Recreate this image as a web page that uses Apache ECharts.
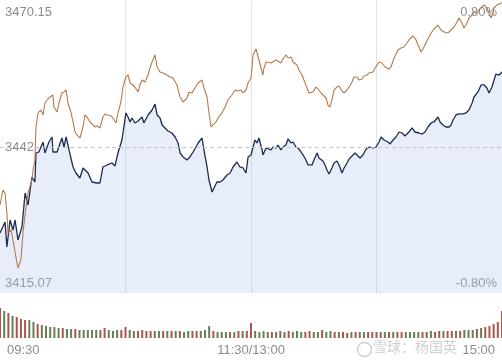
<!DOCTYPE html>
<html><head><meta charset="utf-8">
<script src="https://cdn.jsdelivr.net/npm/echarts@6/dist/echarts.min.js"></script>
<style>html,body{margin:0;padding:0;background:#fff}#c{width:502px;height:362px}</style>
</head><body><div id="c"></div>
<script>
// ---- data ----
const timeTicks = [0, 120, 240];                 // minutes since 09:30 (trading minutes)
const timeLabels = ['09:30', '11:30/13:00', '15:00'];
const priceMin = 3415.07, priceMax = 3470.15, prevClose = 3442.61;
const leftTickValues = [3415.07, 3442.61, 3470.15];
const leftTickLabels = ['3415.07', '3442', '3470.15'];
const rightTickValues = [3415.07, 3470.15];
const rightTickLabels = ['-0.80%', '0.80%'];

// [trading minute, price]
const indexLine = [[0,3426.39],[2.4,3428.46],[3.3,3423.75],[4.8,3428.84],[6.2,3426.95],[7.2,3428.84],[8.6,3425.07],[10.5,3427.52],[12.0,3433.93],[13.4,3431.67],[15.3,3436.95],[16.7,3436.01],[17.2,3441.48],[18.6,3441.67],[20.6,3443.55],[21.5,3441.48],[23.4,3443.55],[24.9,3444.50],[25.3,3441.67],[27.3,3441.67],[28.2,3441.48],[29.6,3444.31],[30.6,3442.61],[31.6,3444.50],[33.0,3442.05],[34.9,3438.84],[36.3,3437.71],[38.2,3436.76],[39.7,3438.65],[42.1,3437.71],[44.0,3436.01],[46.4,3435.82],[47.8,3435.82],[49.2,3438.84],[51.2,3439.22],[53.5,3439.59],[55.0,3439.03],[56.4,3441.48],[58.3,3443.93],[60.2,3449.03],[61.2,3448.27],[62.2,3447.33],[63.1,3448.08],[64.5,3447.14],[66.0,3447.52],[67.9,3448.27],[68.8,3447.14],[70.8,3448.65],[72.7,3449.59],[74.1,3450.72],[75.1,3448.65],[76.5,3448.08],[77.5,3446.76],[78.9,3446.20],[80.3,3445.63],[82.2,3445.25],[83.7,3444.50],[85.1,3443.37],[86.1,3441.48],[87.5,3440.73],[89.4,3440.16],[90.8,3440.73],[92.3,3441.67],[93.7,3442.61],[94.7,3443.37],[96.6,3444.31],[97.5,3442.05],[99.0,3438.84],[99.9,3436.39],[101.4,3434.12],[102.3,3434.12],[103.7,3436.01],[105.2,3436.01],[106.6,3436.39],[108.5,3437.33],[110.0,3437.71],[111.4,3438.84],[113.3,3439.78],[114.7,3438.84],[116.2,3438.65],[117.6,3437.71],[118.6,3440.73],[120.0,3441.10],[121.0,3442.61],[121.9,3443.93],[122.9,3443.37],[123.8,3444.31],[125.3,3442.05],[125.7,3441.10],[127.2,3442.42],[128.1,3442.61],[129.6,3442.05],[130.5,3442.61],[132.0,3442.42],[132.9,3442.99],[134.3,3442.05],[135.3,3442.61],[136.7,3442.99],[137.7,3444.12],[139.1,3443.37],[140.1,3443.55],[141.5,3442.61],[142.5,3442.42],[143.9,3441.67],[144.9,3441.10],[146.3,3440.16],[147.3,3439.22],[149.2,3439.22],[150.1,3440.16],[151.6,3441.48],[152.5,3440.54],[154.4,3439.97],[155.4,3439.22],[156.3,3438.27],[157.3,3437.52],[158.7,3438.65],[159.7,3439.59],[161.1,3439.97],[162.1,3439.22],[163.5,3437.71],[164.5,3438.65],[165.9,3439.59],[166.9,3440.35],[168.3,3440.91],[169.7,3441.48],[170.7,3441.10],[172.1,3440.54],[173.5,3441.10],[174.5,3441.86],[175.5,3442.42],[176.9,3442.61],[178.3,3442.42],[179.8,3442.61],[181.2,3443.55],[182.2,3444.50],[183.6,3443.93],[185.5,3443.55],[186.5,3443.18],[187.9,3443.93],[189.3,3444.50],[190.8,3445.44],[192.2,3445.25],[193.6,3444.69],[195.5,3445.44],[197.0,3446.20],[198.4,3445.44],[200.3,3445.25],[201.8,3445.06],[203.2,3445.44],[204.6,3446.38],[206.1,3447.14],[207.5,3447.33],[209.4,3448.27],[210.4,3447.33],[211.8,3446.76],[213.2,3446.38],[214.7,3446.38],[215.6,3446.76],[216.6,3447.70],[218.0,3448.65],[219.4,3448.84],[221.4,3448.84],[222.8,3449.03],[224.2,3449.59],[225.7,3450.91],[226.6,3452.04],[228.5,3452.99],[230.0,3454.31],[231.4,3454.31],[232.8,3453.74],[233.8,3452.80],[235.2,3453.93],[236.2,3455.25],[237.1,3456.38],[238.6,3456.19],[240,3456.76]];

const avgLine = [[0,3431.67],[1.4,3434.50],[2.4,3433.93],[3.3,3430.16],[3.8,3426.39],[5.3,3426.95],[6.2,3425.07],[7.6,3421.86],[8.6,3419.79],[10.0,3421.30],[11.0,3426.39],[12.4,3431.29],[13.4,3433.93],[15.3,3436.39],[15.8,3438.27],[16.7,3440.16],[17.2,3446.38],[18.2,3449.03],[19.6,3449.59],[20.6,3448.65],[21.5,3450.91],[22.5,3451.48],[23.9,3452.04],[25.3,3452.42],[25.8,3450.16],[27.3,3449.21],[28.2,3450.91],[29.6,3452.80],[30.6,3452.99],[31.6,3453.36],[32.5,3450.91],[33.9,3449.21],[34.9,3447.33],[35.9,3445.44],[36.8,3444.88],[38.2,3444.31],[39.7,3446.38],[40.6,3448.65],[41.6,3448.27],[43.0,3447.33],[44.5,3446.76],[45.4,3446.38],[46.4,3446.57],[47.8,3446.20],[49.2,3448.27],[50.2,3448.84],[51.2,3448.65],[53.1,3448.46],[54.0,3448.08],[55.5,3447.14],[56.4,3449.03],[57.8,3451.10],[58.8,3453.93],[60.2,3455.82],[61.2,3456.19],[62.2,3454.68],[63.1,3454.87],[64.5,3453.93],[66.0,3452.99],[66.9,3454.31],[67.9,3455.25],[69.3,3454.87],[70.8,3456.19],[71.7,3457.51],[72.7,3458.65],[74.1,3459.97],[75.1,3457.70],[76.5,3456.76],[77.9,3456.57],[79.8,3456.19],[81.3,3455.82],[82.7,3455.63],[84.6,3454.31],[86.1,3452.04],[87.5,3451.10],[89.4,3451.85],[90.4,3452.99],[91.8,3452.80],[93.2,3453.74],[94.7,3454.68],[96.6,3455.25],[97.5,3453.74],[99.0,3452.04],[99.9,3449.03],[100.9,3446.38],[101.8,3446.20],[103.3,3447.33],[104.2,3448.08],[106.1,3449.03],[107.6,3450.16],[109.0,3451.48],[110.9,3452.42],[112.4,3453.36],[113.8,3453.18],[115.2,3453.36],[116.2,3452.80],[117.6,3453.36],[118.6,3454.68],[120.0,3455.63],[120.5,3457.70],[121.0,3459.97],[122.4,3461.10],[122.9,3460.34],[123.8,3459.97],[125.3,3456.76],[125.7,3456.19],[126.2,3457.51],[127.2,3458.65],[128.1,3459.02],[129.6,3458.46],[130.5,3458.83],[132.0,3459.02],[132.9,3458.65],[134.3,3458.46],[135.3,3459.21],[136.7,3459.97],[137.7,3459.40],[139.1,3459.59],[140.1,3458.65],[142.0,3458.08],[142.9,3457.14],[144.4,3456.19],[145.3,3455.25],[146.8,3453.74],[147.7,3452.80],[149.6,3452.99],[151.1,3453.93],[152.0,3453.55],[153.5,3452.80],[154.4,3452.42],[155.9,3451.85],[156.8,3450.53],[157.8,3450.16],[158.7,3451.48],[159.7,3453.36],[161.1,3453.93],[162.1,3454.12],[163.5,3453.18],[164.5,3452.80],[165.9,3453.36],[166.9,3453.93],[168.3,3454.87],[169.2,3455.82],[170.7,3455.82],[171.6,3455.25],[173.1,3455.44],[174.0,3456.00],[175.5,3456.19],[176.4,3456.57],[178.3,3456.76],[179.3,3457.51],[181.2,3458.65],[182.6,3458.46],[184.1,3457.70],[186.0,3457.32],[186.9,3457.70],[188.4,3459.40],[190.3,3460.91],[191.7,3461.29],[193.1,3461.47],[194.6,3462.23],[195.5,3462.80],[197.4,3463.55],[198.9,3462.80],[200.3,3461.47],[201.3,3460.53],[202.7,3461.47],[204.6,3462.98],[206.1,3464.12],[207.5,3464.87],[209.4,3465.62],[210.8,3464.68],[212.3,3464.30],[214.2,3464.12],[215.6,3464.68],[217.1,3465.25],[218.5,3466.19],[219.4,3466.95],[220.9,3466.00],[221.8,3465.06],[223.3,3466.00],[224.2,3466.95],[225.7,3467.51],[226.6,3467.89],[228.0,3467.89],[229.0,3468.45],[230.4,3469.02],[231.4,3469.40],[232.8,3468.83],[233.8,3467.89],[234.7,3466.95],[235.7,3467.89],[236.2,3468.83],[237.6,3469.40],[238.6,3469.59],[240,3469.77]];

// volume per 2-minute bar (relative units) and its colour (r = up, g = down)
const volumes = [30,27,25,22,21,19,18,18,16,14,13,12,11,11,10,10,9,9,9,8,8,8,8,8,8,10,8,7,8,8,11,8,7,7,8,7,7,7,7,7,7,7,7,7,6,7,7,7,7,8,12,7,6,6,6,6,6,7,7,7,15,7,6,7,6,6,6,7,6,7,6,7,6,6,7,6,6,8,6,7,6,6,6,5,6,6,6,6,6,6,6,6,6,6,6,6,6,6,6,6,6,6,6,7,6,7,7,7,7,7,7,8,8,8,9,10,11,12,14,16,27];
const volDir = ('rgrgrrrggr'+'gggggrggrg'+'ggggrrgggr'+'rggrrrrggr'+'grgrggrrgg'+'grgggrgrgr'+'rggggrggrr'+'gggrrggrgg'+'rgrrgrggrr'+'rrgrgrrggg'+'grrgrrgrrg'+'rgggrgrrrr'+'r').split('');
const watermark = '雪球：杨国英';

// ---- chart ----
const chart = echarts.init(document.getElementById('c'), null, {renderer: 'canvas'});
const font = "'Liberation Sans', Arial, sans-serif";
const labelColor = '#8c8c8c';
function pick(vals, v) {
  for (let i = 0; i < vals.length; i++) if (Math.abs(vals[i] - v) < 0.01) return i;
  return -1;
}
function priceLabel(vals, labels) {
  return function (v) {
    const i = pick(vals, v);
    if (i < 0) return '';
    const key = (Math.abs(v - priceMax) < 0.01) ? 'top' : (Math.abs(v - priceMin) < 0.01 ? 'bot' : 'mid');
    return '{' + key + '|' + labels[i] + '}';
  };
}
const txt = {color: labelColor, fontSize: 13, fontFamily: font};
const rich = {
  top: Object.assign({padding: [22, 0, 0, 0]}, txt),
  bot: Object.assign({padding: [0, 0, 20, 0]}, txt),
  mid: Object.assign({}, txt)
};
const VOL_UP = '#a8554f', VOL_DOWN = '#687f52';

chart.setOption({
  animation: false,
  backgroundColor: '#fff',
  grid: [
    {left: 0, right: 0, top: 1, height: 292},
    {left: 0, right: 0, top: 296, height: 42}
  ],
  xAxis: [
    {type: 'value', gridIndex: 0, min: 0, max: 240, interval: 60,
     axisLine: {show: false}, axisTick: {show: false}, axisLabel: {show: false},
     splitLine: {show: true, showMinLine: false, showMaxLine: false, lineStyle: {color: '#e2e2e2', width: 1}}},
    {type: 'value', gridIndex: 1, min: 0, max: 240, interval: 120,
     axisLine: {show: false}, axisTick: {show: false}, splitLine: {show: false},
     axisLabel: {show: true, color: labelColor, fontSize: 13, fontFamily: font, margin: 6,
       padding: [0, 7, 0, 7], alignMinLabel: 'left', alignMaxLabel: 'right',
       formatter: function (v) { const i = timeTicks.indexOf(v); return i < 0 ? '' : timeLabels[i]; }}}
  ],
  yAxis: [
    {type: 'value', gridIndex: 0, min: priceMin, max: priceMax, position: 'left',
     axisLine: {show: false}, axisTick: {show: false}, splitLine: {show: false},
     axisLabel: {inside: true, margin: 5, customValues: leftTickValues,
       formatter: priceLabel(leftTickValues, leftTickLabels), rich: rich}},
    {type: 'value', gridIndex: 0, min: priceMin, max: priceMax, position: 'right',
     axisLine: {show: false}, axisTick: {show: false}, splitLine: {show: false},
     axisLabel: {inside: true, margin: 5, customValues: rightTickValues,
       formatter: priceLabel(rightTickValues, rightTickLabels), rich: rich}},
    {type: 'value', gridIndex: 1, min: 0, max: 42, show: false}
  ],
  series: [
    {type: 'line', name: 'index', xAxisIndex: 0, yAxisIndex: 0, data: indexLine,
     showSymbol: false, z: 3,
     lineStyle: {color: '#1c2b4f', width: 1.3},
     areaStyle: {color: 'rgba(176,198,240,0.44)', origin: 'start'},
     markLine: {silent: true, symbol: ['none', 'none'], label: {show: false},
       lineStyle: {type: [4, 3], color: '#c6c6c6', width: 1},
       data: [{yAxis: prevClose}]}},
    {type: 'line', name: 'avg', xAxisIndex: 0, yAxisIndex: 0, data: avgLine,
     showSymbol: false, z: 4,
     lineStyle: {color: '#b47a4c', width: 1.1}},
    {type: 'bar', name: 'volume', xAxisIndex: 1, yAxisIndex: 2, barWidth: 2,
     data: volumes.map(function (v, i) {
       return {value: [i * 2, v], itemStyle: {color: volDir[i] === 'r' ? VOL_UP : VOL_DOWN}};
     })}
  ],
  graphic: [
    {type: 'circle', left: 355, top: 340, shape: {r: 7}, z: 0,
     style: {fill: 'none', stroke: 'rgba(170,170,170,0.55)', lineWidth: 1.5}},
    {type: 'text', left: 373, top: 340, z: 0,
     style: {text: watermark, fill: 'rgba(170,170,170,0.55)', font: "14px 'Noto Sans CJK SC', sans-serif"}}
  ]
});
</script>
</body></html>
